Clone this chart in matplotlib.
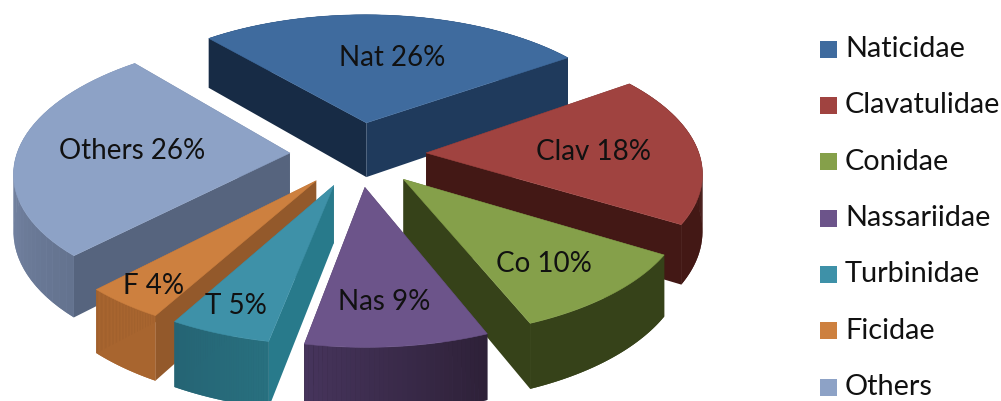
import numpy as np
import matplotlib
matplotlib.use("Agg")
import matplotlib.pyplot as plt
from matplotlib.colors import to_rgb
from matplotlib.patches import Polygon, Rectangle

names = ["Naticidae", "Clavatulidae", "Conidae", "Nassariidae", "Turbinidae", "Ficidae", "Others"]
short = ["Nat", "Clav", "Co", "Nas", "T", "F", "Others"]
values = [26, 18, 10, 9, 5, 4, 26]

top_col = ["#3f6b9e", "#a04340", "#85a04a", "#6c548a", "#3e91a8", "#cd803f", "#8da2c6"]
start_col = ["#172b45", "#431815", "#364219", "#2e2138", "#287a8b", "#93592b", "#56647e"]
end_col = ["#1f3a5c", "#431815", "#364219", "#2e2138", "#266675", "#93592b", "#56647e"]
wall_a = ["#1f3a5c", "#431815", "#364219", "#2e2138", "#28707f", "#a8652f", "#64738f"]
wall_b = ["#1f3a5c", "#431815", "#364219", "#46345c", "#256474", "#a8652f", "#8a9bbd"]
label_xy = [(392, 58), (594, 152), (544, 264), (384, 302), (236, 306), (154, 286), (132, 151)]
draw_order = [0, 6, 1, 5, 4, 2, 3]

cx, cy, R, k, p, e, h = 358, 154, 273, 0.475, 0.13, 0.25, 56
start_angle = -40.5


def project(X, Y, z=0.0):
    s = 1 / (1 - p * Y)
    return cx + R * X * s, cy + (R * k * Y + z) * s


def disk(angle, r=1.0, off=(0.0, 0.0)):
    a = np.radians(angle)
    return off[0] + r * np.sin(a), off[1] - r * np.cos(a)


def side(edge):
    return [project(*q) for q in edge] + [project(*q, h) for q in edge[::-1]]


fig = plt.figure(figsize=(10.01, 4.01), dpi=100)
ax = fig.add_axes([0, 0, 1, 1])
ax.set_xlim(0, 1001)
ax.set_ylim(401, 0)
ax.axis("off")

total = sum(values)
spans = [v / total * 360 for v in values]
starts = start_angle + np.cumsum([0] + spans[:-1])

for i in draw_order:
    a0, a1 = starts[i], starts[i] + spans[i]
    off = disk((a0 + a1) / 2, e)
    rim = [disk(a, 1.0, off) for a in np.linspace(a0, a1, 41)]

    # whole wall first so the shading bands have no white seams
    ca = np.array(to_rgb(wall_a[i]))
    cb = np.array(to_rgb(wall_b[i]))
    ax.add_patch(Polygon(side(rim), closed=True, fc=(ca + cb) / 2, ec="none"))

    faces = []
    for j in range(len(rim) - 1):
        m = j / (len(rim) - 2)
        faces.append(((rim[j][1] + rim[j + 1][1]) / 2, [rim[j], rim[j + 1]], tuple(ca + (cb - ca) * m)))
    faces.append(((off[1] + rim[0][1]) / 2, [off, rim[0]], start_col[i]))
    faces.append(((off[1] + rim[-1][1]) / 2, [off, rim[-1]], end_col[i]))
    for _, edge, col in sorted(faces, key=lambda f: f[0]):
        ax.add_patch(Polygon(side(edge), closed=True, fc=col, ec="none"))

    outline = [project(*off)] + [project(*q) for q in rim]
    ax.add_patch(Polygon(outline, closed=True, fc=top_col[i], ec=top_col[i], lw=0.4, joinstyle="round"))

for i in range(len(values)):
    ax.text(label_xy[i][0], label_xy[i][1], f"{short[i]} {values[i]}%", fontsize=20,
            family="Lato", color="#111111", ha="center", va="center")

legend_y = np.linspace(49, 387, len(names))
for i, name in enumerate(names):
    ax.add_patch(Rectangle((820, legend_y[i] - 8.5), 17, 17, fc=top_col[i], ec="none"))
    ax.text(845, legend_y[i], name, fontsize=20.8, family="Lato", color="#111111",
            ha="left", va="center")

fig.savefig("out.png", dpi=100)
